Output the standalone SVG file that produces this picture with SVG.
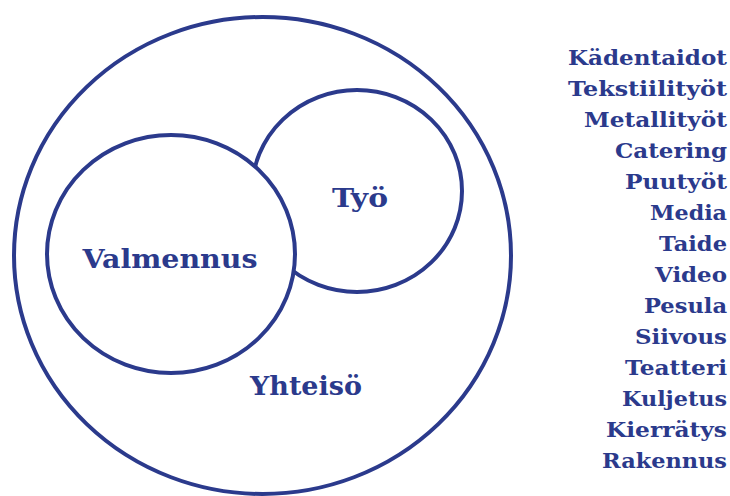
<svg xmlns="http://www.w3.org/2000/svg" width="730" height="496" viewBox="0 0 730 496">
<style>
.c{fill:#fff;stroke:#2b3a8c;stroke-width:4}
.t{font-family:"DejaVu Serif","Liberation Serif",serif;font-weight:bold;fill:#2b3a8c}
.big{font-size:26px;text-anchor:middle}
.l{font-size:21px;text-anchor:end}
</style>
<rect width="730" height="496" fill="#fff"/>
<g id="yhteiso">
<ellipse class="c" cx="262.5" cy="255.5" rx="248.5" ry="238.5"/>
<text class="t big" x="306" y="395" textLength="112" lengthAdjust="spacingAndGlyphs">Yhteisö</text>
</g>
<g id="tyo">
<ellipse class="c" cx="357" cy="191" rx="105" ry="101"/>
<text class="t big" x="360" y="207" textLength="56" lengthAdjust="spacingAndGlyphs">Työ</text>
</g>
<g id="valmennus">
<ellipse class="c" cx="171" cy="254" rx="124" ry="119"/>
<text class="t big" x="170" y="268" textLength="175" lengthAdjust="spacingAndGlyphs">Valmennus</text>
</g>
<g id="list">
<text class="t l" x="727" y="65" textLength="159" lengthAdjust="spacingAndGlyphs">Kädentaidot</text>
<text class="t l" x="727" y="96" textLength="159" lengthAdjust="spacingAndGlyphs">Tekstiilityöt</text>
<text class="t l" x="727" y="127" textLength="143" lengthAdjust="spacingAndGlyphs">Metallityöt</text>
<text class="t l" x="727" y="158" textLength="112" lengthAdjust="spacingAndGlyphs">Catering</text>
<text class="t l" x="727" y="189" textLength="102" lengthAdjust="spacingAndGlyphs">Puutyöt</text>
<text class="t l" x="727" y="220" textLength="77" lengthAdjust="spacingAndGlyphs">Media</text>
<text class="t l" x="727" y="251" textLength="68" lengthAdjust="spacingAndGlyphs">Taide</text>
<text class="t l" x="727" y="282" textLength="72" lengthAdjust="spacingAndGlyphs">Video</text>
<text class="t l" x="727" y="313" textLength="83" lengthAdjust="spacingAndGlyphs">Pesula</text>
<text class="t l" x="727" y="344" textLength="92" lengthAdjust="spacingAndGlyphs">Siivous</text>
<text class="t l" x="727" y="375" textLength="102" lengthAdjust="spacingAndGlyphs">Teatteri</text>
<text class="t l" x="727" y="406" textLength="105" lengthAdjust="spacingAndGlyphs">Kuljetus</text>
<text class="t l" x="727" y="437" textLength="121" lengthAdjust="spacingAndGlyphs">Kierrätys</text>
<text class="t l" x="727" y="468" textLength="125" lengthAdjust="spacingAndGlyphs">Rakennus</text>
</g>
</svg>
